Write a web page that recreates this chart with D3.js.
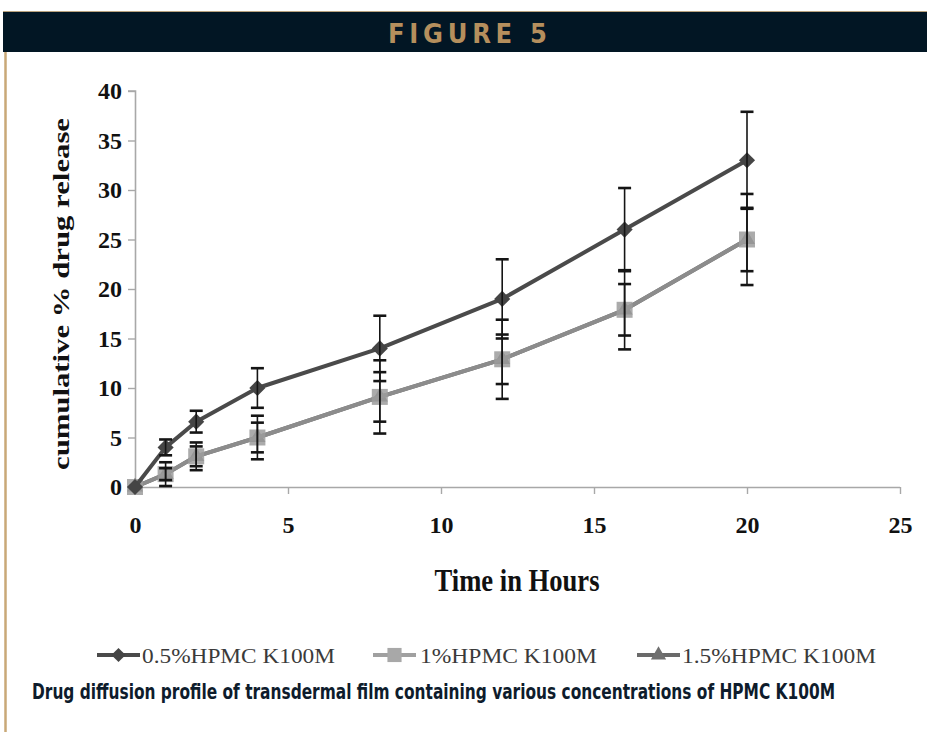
<!DOCTYPE html>
<html>
<head>
<meta charset="utf-8">
<script src="https://cdn.jsdelivr.net/npm/d3@7"></script>
<style>
  html, body { margin: 0; padding: 0; background: #fff; }
  svg { display: block; }
</style>
</head>
<body>
<svg id="fig" width="927" height="732"></svg>
<script>
// Sampling times (hours)
const timeHours = [0, 1, 2, 4, 8, 12, 16, 20];

// Cumulative % drug release and standard deviations per formulation
const release05 = [0, 4.0, 6.6, 10.0, 14.0, 19.0, 26.0, 33.0];
const sd05      = [0, 0.8, 1.1, 2.0, 3.3, 4.0, 4.2, 4.9];
const release10 = [0, 1.3, 3.1, 5.0, 9.1, 12.9, 17.9, 25.0];
const sd10      = [0, 1.2, 1.4, 2.2, 3.7, 4.0, 4.0, 4.6];
const release15 = [0, 1.3, 3.1, 5.0, 9.1, 12.9, 17.9, 25.0];
const sd15      = [0, 0.6, 1.0, 1.5, 2.5, 2.5, 2.6, 3.2];

const seriesNames = ["0.5%HPMC K100M", "1%HPMC K100M", "1.5%HPMC K100M"];
const xTicks = [0, 5, 10, 15, 20, 25];
const yTicks = [0, 5, 10, 15, 20, 25, 30, 35, 40];

const figureTitle = "FIGURE 5";
const caption = "Drug diffusion profile of transdermal film containing various concentrations of HPMC K100M";
const xTitle = "Time in Hours";
const yTitle = "cumulative %  drug release";

const svg = d3.select("#fig");
const serif = "'Liberation Serif', 'Times New Roman', serif";
const narrow = "'Liberation Sans Narrow', 'DejaVu Sans Condensed', 'Arial Narrow', sans-serif";

// Header band
svg.append("rect").attr("x", 3).attr("y", 12).attr("width", 924).attr("height", 40).attr("fill", "#021624");
svg.append("line").attr("x1", 3).attr("x2", 927).attr("y1", 11.5).attr("y2", 11.5)
  .attr("stroke", "#b9a27e").attr("stroke-width", 1.2);
svg.append("text").attr("x", 472).attr("y", 43).attr("text-anchor", "middle")
  .attr("font-family", narrow).attr("font-weight", "bold").attr("font-size", 27)
  .attr("letter-spacing", 9).attr("textLength", 168).attr("lengthAdjust", "spacing")
  .attr("fill", "#b58f5d").text(figureTitle);

// Left rule
svg.append("line").attr("x1", 5.5).attr("x2", 5.5).attr("y1", 52).attr("y2", 732)
  .attr("stroke", "#c9a877").attr("stroke-width", 2.5);

// Scales
const x = d3.scaleLinear().domain([0, 25]).range([135, 900]);
const y = d3.scaleLinear().domain([0, 40]).range([487, 91]);

// Axes
const axisColor = "#a8a8a8";
const xAxis = svg.append("g").attr("transform", `translate(0,${y(0)})`)
  .call(d3.axisBottom(x).tickValues(xTicks).tickSize(7).tickPadding(22).tickFormat(d3.format("d")));
const yAxis = svg.append("g").attr("transform", `translate(${x(0)},0)`)
  .call(d3.axisLeft(y).tickValues(yTicks).tickSize(7).tickPadding(6).tickFormat(d3.format("d")));
[xAxis, yAxis].forEach(g => {
  g.select(".domain").attr("stroke", axisColor).attr("stroke-width", 1.6);
  g.selectAll(".tick line").attr("stroke", axisColor).attr("stroke-width", 1.4);
  g.selectAll(".tick text").attr("fill", "#111").attr("font-family", serif)
    .attr("font-weight", "bold").attr("font-size", 24);
});
xAxis.select(".domain").attr("d", `M${x(0)},0.5H${x(25)}`);
yAxis.select(".domain").attr("d", `M-7,${y(40)}H0.5V${y(0)}`);

// Axis titles
svg.append("text").attr("transform", `translate(517,591) scale(1,1.2)`)
  .attr("text-anchor", "middle").attr("font-family", serif).attr("font-weight", "bold")
  .attr("font-size", 26).attr("textLength", 165).attr("lengthAdjust", "spacingAndGlyphs")
  .attr("fill", "#111").text(xTitle);
svg.append("text").attr("transform", `translate(69,294) rotate(-90)`)
  .attr("text-anchor", "middle").attr("font-family", serif).attr("font-weight", "bold")
  .attr("font-size", 24).attr("textLength", 352).attr("lengthAdjust", "spacingAndGlyphs")
  .attr("fill", "#111").text(yTitle);

// Series definitions
const series = [
  { name: seriesNames[2], values: release15, sd: sd15, line: "#6a6a6a", fill: "#707070", symbol: "triangle", size: 110 },
  { name: seriesNames[1], values: release10, sd: sd10, line: "#8c8c8c", fill: "#9c9c9c", symbol: "square", size: 256 },
  { name: seriesNames[0], values: release05, sd: sd05, line: "#4a4a4a", fill: "#454545", symbol: "diamond", size: 130 }
];

function markerPath(kind, size) {
  if (kind === "triangle") return d3.symbol(d3.symbolTriangle, size)();
  return d3.symbol(d3.symbolSquare, size)();
}
function markerTransform(kind, px, py) {
  return kind === "diamond" ? `translate(${px},${py}) rotate(45)` : `translate(${px},${py})`;
}

const lineGen = d3.line().x((d, i) => x(timeHours[i])).y(d => y(d));
const plot = svg.append("g");

series.forEach(s => {
  plot.append("path").attr("d", lineGen(s.values)).attr("fill", "none")
    .attr("stroke", s.line).attr("stroke-width", 4).attr("stroke-linejoin", "round");
  plot.selectAll(null).data(s.values).join("path")
    .attr("d", markerPath(s.symbol, s.size))
    .attr("transform", (d, i) => markerTransform(s.symbol, x(timeHours[i]), y(d)))
    .attr("fill", s.fill).attr("fill-opacity", s.symbol === "square" ? 0.85 : 1);
});

// Error bars
const capHalf = 6.5;
series.forEach(s => {
  s.values.forEach((v, i) => {
    if (!s.sd[i]) return;
    const px = x(timeHours[i]);
    const top = y(v + s.sd[i]), bot = y(v - s.sd[i]);
    plot.append("line").attr("x1", px).attr("x2", px).attr("y1", top).attr("y2", bot)
      .attr("stroke", "#151515").attr("stroke-width", 1.6);
    [top, bot].forEach(cy => plot.append("line")
      .attr("x1", px - capHalf).attr("x2", px + capHalf).attr("y1", cy).attr("y2", cy)
      .attr("stroke", "#151515").attr("stroke-width", 2.6));
  });
});

// Legend
const legendItems = [
  { s: series[2], lx: 97, tx: 142, tl: 193 },
  { s: series[1], lx: 373, tx: 420, tl: 177 },
  { s: series[0], lx: 637, tx: 682, tl: 194 }
];
const ly = 655;
legendItems.forEach(it => {
  const g = svg.append("g");
  g.append("line").attr("x1", it.lx).attr("x2", it.lx + 43).attr("y1", ly).attr("y2", ly)
    .attr("stroke", it.s.symbol === "square" ? "#a0a0a0" : it.s.line).attr("stroke-width", 3.8);
  g.append("path").attr("d", markerPath(it.s.symbol, it.s.symbol === "square" ? 200 : 100))
    .attr("transform", markerTransform(it.s.symbol, it.lx + 21.5, ly))
    .attr("fill", it.s.symbol === "square" ? "#a8a8a8" : it.s.fill);
  g.append("text").attr("x", it.tx).attr("y", ly + 8).attr("font-family", serif)
    .attr("font-size", 22).attr("textLength", it.tl).attr("lengthAdjust", "spacingAndGlyphs")
    .attr("fill", "#3a3a3a").text(it.s.name);
});

// Caption
svg.append("text").attr("transform", "translate(32,699) scale(1,1.12)")
  .attr("font-family", narrow).attr("font-weight", "bold").attr("font-size", 19)
  .attr("textLength", 803).attr("lengthAdjust", "spacingAndGlyphs")
  .attr("fill", "#0e1c2c").text(caption);
</script>
</body>
</html>
